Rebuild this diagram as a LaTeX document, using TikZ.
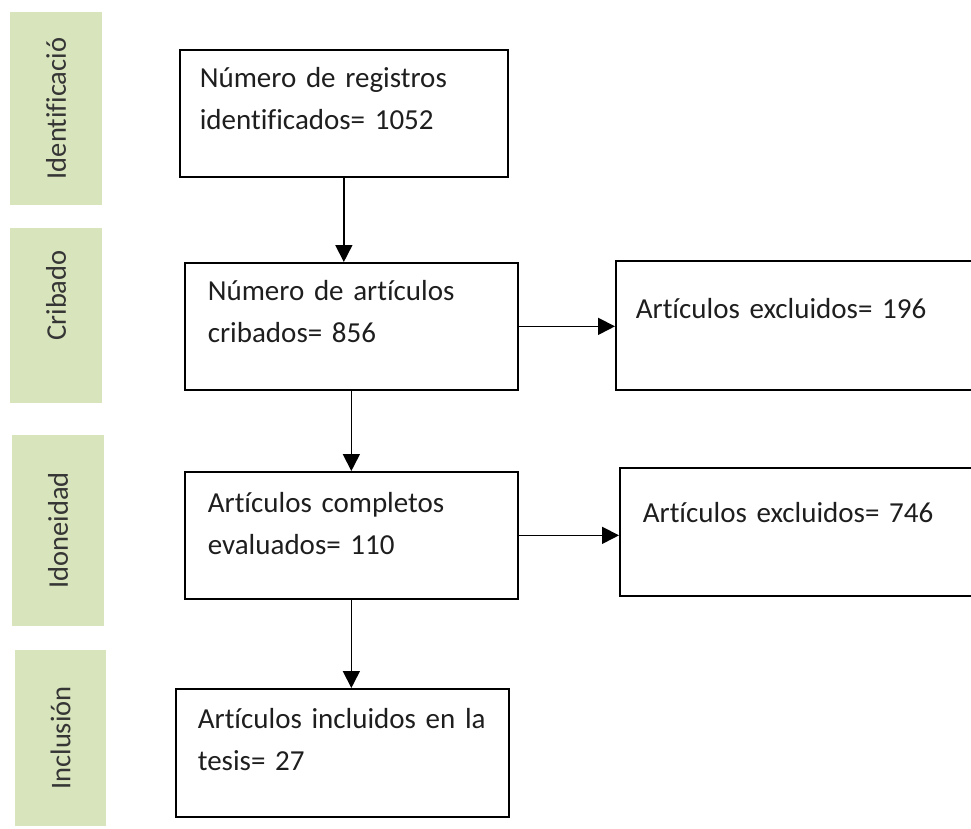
\documentclass[tikz,border=0pt]{standalone}
\usepackage{fontspec}
\setmainfont{Carlito}[Ligatures={NoCommon}, WordSpace=0.8]
\usetikzlibrary{arrows.meta}
\definecolor{phasegreen}{HTML}{D8E4BC}
\definecolor{inkgray}{HTML}{1E1E1E}

\begin{document}
\begin{tikzpicture}[x=1pt,y=-1pt,
    phase/.style={fill=phasegreen, rotate=90, inner sep=0pt, text=inkgray!90,
      font=\fontsize{28.5}{34}\selectfont},
    box/.style={draw, line width=1.7pt, anchor=north west, align=left, inner ysep=0pt,
      text=inkgray, font=\fontsize{29}{42}\selectfont},
    flow/.style={line width=1.7pt, -{Triangle[length=17pt,width=17pt]}}]
  \useasboundingbox (0,0) rectangle (971,829);
  \clip (0,0) rectangle (971,829);

  % phases
  \node[phase, minimum width=193pt, minimum height=92pt] (ident) at (56,108.5) {Identificació};
  \node[phase, minimum width=175pt, minimum height=92pt] (criba) at (56,315.5) {\hspace*{40pt}Cribado};
  \node[phase, minimum width=191pt, minimum height=92pt] (idon) at (58,530.5) {Idoneidad};
  \node[phase, minimum width=176pt, minimum height=91pt] (inclu) at (60.5,738) {Inclusión};

  % boxes
  \node[box, inner xsep=20pt, text width=288pt, text height=38pt, text depth=89pt] (reg) at (179,49)
    {Número de registros\\identificados= 1052};
  \node[box, inner xsep=23pt, text width=287pt, text height=38pt, text depth=89pt] (crib) at (184,262)
    {Número de artículos\\cribados= 856};
  \node[box, inner xsep=23pt, text width=287pt, text height=41pt, text depth=86pt] (eval) at (184,471)
    {Artículos completos\\evaluados= 110};
  \node[box, inner xsep=22pt, text width=289pt, text height=40pt, text depth=88pt] (incl) at (175,688)
    {Artículos incluidos en la\\tesis= 27};
  \node[box, inner xsep=20pt, text width=335pt, text height=58pt, text depth=71pt] (excl1) at (615,260)
    {Artículos excluidos= 196};
  \node[box, inner xsep=23pt, text width=345pt, text height=55pt, text depth=73pt] (excl2) at (619,467)
    {Artículos excluidos= 746};

  % arrows
  \draw[flow] (reg.south) -- (reg.south |- crib.north);
  \draw[flow] (crib.south) -- (crib.south |- eval.north);
  \draw[flow] (eval.south) -- (eval.south |- incl.north);
  \draw[flow] (crib.east) -- (crib.east -| excl1.west);
  \draw[flow] (eval.east) -- (eval.east -| excl2.west);
\end{tikzpicture}
\end{document}
